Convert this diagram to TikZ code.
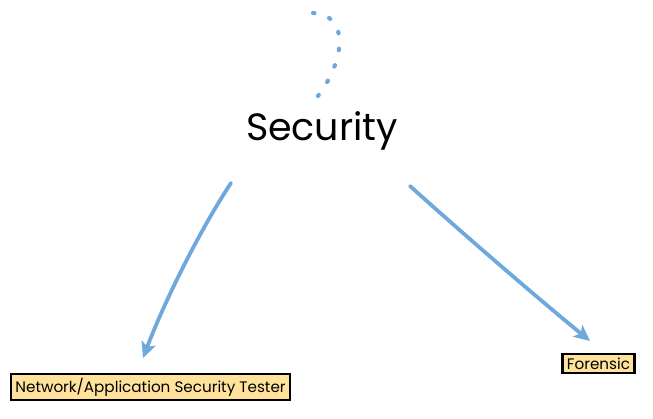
\documentclass[tikz,border=0pt]{standalone}
\usepackage{fontspec}
\setmainfont{Poppins}
\usetikzlibrary{arrows.meta}
\definecolor{arrowblue}{RGB}{111,168,220}
\definecolor{boxfill}{RGB}{255,226,155}
\tikzset{
  conn/.style={draw=arrowblue, line width=3.8pt, line cap=round, -{Stealth[length=16pt,width=15pt,inset=4pt]}},
  rolebox/.style={draw=black, line width=2.2pt, fill=boxfill, inner xsep=4.5pt, inner ysep=4pt, font=\fontsize{15.2}{17}\selectfont},
  dotline/.style={draw=arrowblue, line width=4.2pt, line cap=round, dash pattern=on 1.5pt off 15.5pt}
}
\begin{document}
\begin{tikzpicture}[x=1pt,y=-1pt]
\useasboundingbox (0,0) rectangle (653,419);
\node (sec) at (322,131) {\fontsize{38}{42}\selectfont Security};
\node[rolebox] (net) at (150.5,387) {Network/Application Security Tester};
\node[rolebox] (for) at (598.5,363.5) {Forensic};
\coordinate (top) at (313,13);
\coordinate (secA) at (231,183);
\coordinate (secB) at (410,186);
\coordinate (netTip) at (143,358);
\coordinate (forTip) at (590,341);
\draw[dotline] (top) .. controls (350,15) and (345,60) .. (318,96);
\draw[conn] (secA) .. controls (200,230) and (165,300) .. (netTip);
\draw[conn] (secB) .. controls (470,240) and (540,300) .. (forTip);
\end{tikzpicture}
\end{document}
